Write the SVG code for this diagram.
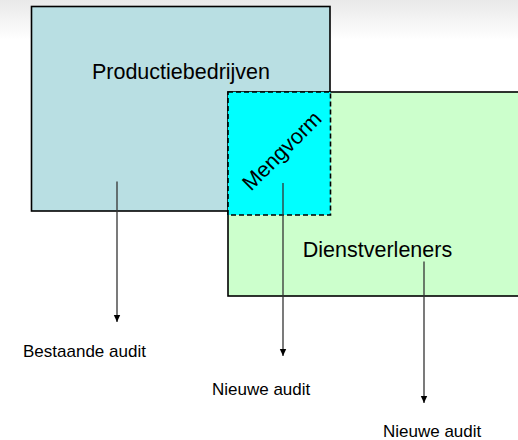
<svg xmlns="http://www.w3.org/2000/svg" width="518" height="440" viewBox="0 0 518 440">
<defs>
<linearGradient id="bg" x1="0" y1="0" x2="0" y2="1">
<stop offset="0" stop-color="#e9e9e9"/>
<stop offset="1" stop-color="#ffffff"/>
</linearGradient>
<marker id="arr" markerWidth="8" markerHeight="8" refX="7" refY="4" orient="auto" markerUnits="userSpaceOnUse">
<path d="M0,0.8 L7,4 L0,7.2 Z" fill="#000"/>
</marker>
</defs>
<style>
.box{stroke:#000;stroke-width:1.6}
.big{font-family:"Liberation Sans",Arial,sans-serif;font-size:21.5px;fill:#000}
.small{font-family:"Liberation Sans",Arial,sans-serif;font-size:17px;fill:#000}
.conn{stroke:#333;stroke-width:1.3;fill:none;marker-end:url(#arr)}
</style>
<rect x="0" y="0" width="518" height="40" fill="url(#bg)"/>
<rect x="0" y="40" width="518" height="400" fill="#fff"/>
<g id="productiebedrijven">
<rect class="box" x="31.5" y="6.5" width="298.5" height="204.5" fill="#b9dfe3"/>
<text class="big" x="181" y="79" text-anchor="middle">Productiebedrijven</text>
</g>
<g id="dienstverleners">
<rect class="box" x="228" y="92" width="295" height="204" fill="#ccffcc"/>
<text class="big" x="377.5" y="257.3" text-anchor="middle">Dienstverleners</text>
</g>
<g id="mengvorm">
<rect x="228" y="92" width="102.5" height="123" fill="#00ffff" stroke="#000" stroke-width="1.6" stroke-dasharray="5,3"/>
<text class="big" x="0" y="0" text-anchor="middle" transform="translate(282,151) rotate(-45) translate(0,7)">Mengvorm</text>
</g>
<g id="connectors">
<line class="conn" x1="117" y1="181.5" x2="117" y2="322"/>
<line class="conn" x1="283" y1="183" x2="283" y2="356"/>
<line class="conn" x1="424" y1="261.5" x2="424" y2="403"/>
</g>
<g id="labels">
<text class="small" x="23" y="357">Bestaande audit</text>
<text class="small" x="212" y="395">Nieuwe audit</text>
<text class="small" x="383" y="437">Nieuwe audit</text>
</g>
</svg>
